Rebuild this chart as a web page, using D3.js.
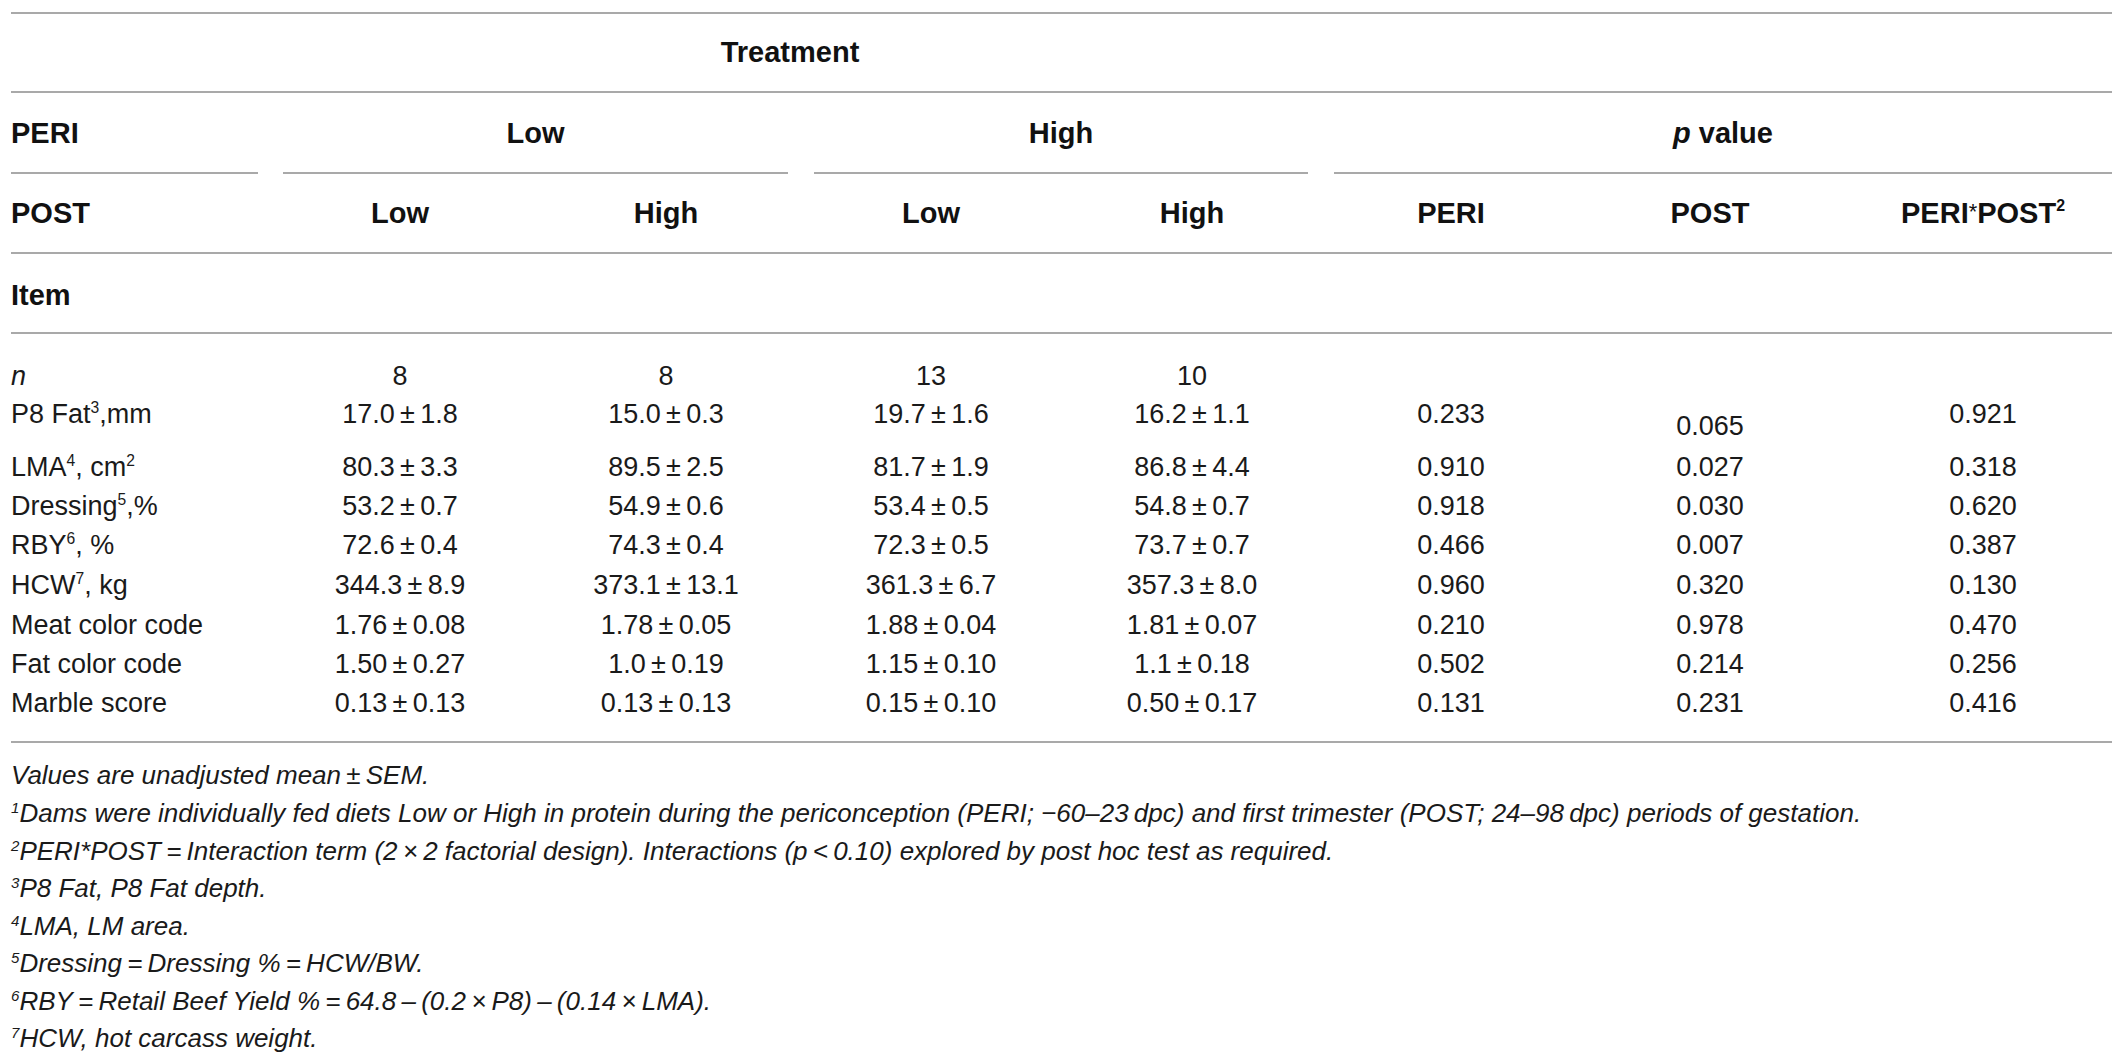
<!DOCTYPE html>
<html>
<head>
<meta charset="utf-8">
<script src="https://cdn.jsdelivr.net/npm/d3@7/dist/d3.min.js"></script>
<style>
  html, body { margin: 0; padding: 0; background: #fff; }
  svg { display: block; font-family: "Liberation Sans", Arial, Helvetica, sans-serif; }
</style>
</head>
<body>
<svg id="chart" width="2126" height="1063"></svg>
<script>
// ---------------- DATA ----------------
const periGroups = ["Low", "High"];
const postGroups = ["Low", "High", "Low", "High"];
const pColumns = ["PERI", "POST", "PERI*POST"];

const itemLabels = ["n", "P8 Fat", "LMA", "Dressing", "RBY", "HCW", "Meat color code", "Fat color code", "Marble score"];
const itemSup    = ["", "3", "4", "5", "6", "7", "", "", ""];
const itemUnits  = ["", ",mm", ", cm", ",%", ", %", ", kg", "", "", ""];
const unitSup    = ["", "", "2", "", "", "", "", "", ""];

const lowLow   = ["8", "17.0\u2009±\u20091.8", "80.3\u2009±\u20093.3", "53.2\u2009±\u20090.7", "72.6\u2009±\u20090.4", "344.3\u2009±\u20098.9", "1.76\u2009±\u20090.08", "1.50\u2009±\u20090.27", "0.13\u2009±\u20090.13"];
const lowHigh  = ["8", "15.0\u2009±\u20090.3", "89.5\u2009±\u20092.5", "54.9\u2009±\u20090.6", "74.3\u2009±\u20090.4", "373.1\u2009±\u200913.1", "1.78\u2009±\u20090.05", "1.0\u2009±\u20090.19", "0.13\u2009±\u20090.13"];
const highLow  = ["13", "19.7\u2009±\u20091.6", "81.7\u2009±\u20091.9", "53.4\u2009±\u20090.5", "72.3\u2009±\u20090.5", "361.3\u2009±\u20096.7", "1.88\u2009±\u20090.04", "1.15\u2009±\u20090.10", "0.15\u2009±\u20090.10"];
const highHigh = ["10", "16.2\u2009±\u20091.1", "86.8\u2009±\u20094.4", "54.8\u2009±\u20090.7", "73.7\u2009±\u20090.7", "357.3\u2009±\u20098.0", "1.81\u2009±\u20090.07", "1.1\u2009±\u20090.18", "0.50\u2009±\u20090.17"];
const pPeri     = ["", "0.233", "0.910", "0.918", "0.466", "0.960", "0.210", "0.502", "0.131"];
const pPost     = ["", "0.065", "0.027", "0.030", "0.007", "0.320", "0.978", "0.214", "0.231"];
const pInteract = ["", "0.921", "0.318", "0.620", "0.387", "0.130", "0.470", "0.256", "0.416"];

const footnotes = [
  {sup: "", text: "Values are unadjusted mean\u2009±\u2009SEM."},
  {sup: "1", text: "Dams were individually fed diets Low or High in protein during the periconception (PERI; \u221260\u201323\u2009dpc) and first trimester (POST; 24\u201398\u2009dpc) periods of gestation."},
  {sup: "2", text: "PERI*POST\u2009=\u2009Interaction term (2\u2009×\u20092 factorial design). Interactions (p\u2009<\u20090.10) explored by post hoc test as required."},
  {sup: "3", text: "P8 Fat, P8 Fat depth."},
  {sup: "4", text: "LMA, LM area."},
  {sup: "5", text: "Dressing\u2009=\u2009Dressing %\u2009=\u2009HCW/BW."},
  {sup: "6", text: "RBY\u2009=\u2009Retail Beef Yield %\u2009=\u200964.8\u2009\u2013\u2009(0.2\u2009×\u2009P8)\u2009\u2013\u2009(0.14\u2009×\u2009LMA)."},
  {sup: "7", text: "HCW, hot carcass weight."}
];

// ---------------- LAYOUT ----------------
const svg = d3.select("#chart");
const left = 11, right = 2112;
const textColor = "#1a1a1a";
const ruleColor = "#a9a9a9";

const valueColumns = [lowLow, lowHigh, highLow, highHigh, pPeri, pPost, pInteract];
const colKeys = d3.range(valueColumns.length);
// column centres via an ordinal scale
const colCenters = [400, 666, 931, 1192, 1451, 1710, 1983];
const x = d3.scaleOrdinal().domain(colKeys).range(colCenters);

// row positions: linear scale over row "units" (P8 row is taller)
const rowUnits = [0, 1, 2.36, 3.36, 4.38, 5.42, 6.46, 7.46, 8.46];
const y = d3.scaleLinear().domain([0, 8.46]).range([375, 702]);

const BODY = 27, HEAD = 29, FOOT = 26;

function rule(x1, x2, yy) {
  svg.append("line").attr("x1", x1).attr("x2", x2).attr("y1", yy).attr("y2", yy)
    .attr("stroke", ruleColor).attr("stroke-width", 2);
}

// horizontal rules
rule(left, right, 13);
rule(left, right, 92);
rule(left, 258, 173);
rule(283, 788, 173);
rule(814, 1308, 173);
rule(1334, right, 173);
rule(left, right, 253);
rule(left, right, 333);
rule(left, right, 742);

function headText(tx, ty, anchor) {
  return svg.append("text").attr("x", tx).attr("y", ty + HEAD * 0.36)
    .attr("text-anchor", anchor).attr("font-size", HEAD).attr("font-weight", "bold").attr("fill", "#111");
}

headText(790, 52, "middle").text("Treatment");
headText(left, 133, "start").text("PERI");
headText((283 + 788) / 2, 133, "middle").text(periGroups[0]);
headText((814 + 1308) / 2, 133, "middle").text(periGroups[1]);
const pv = headText((1334 + right) / 2, 133, "middle");
pv.append("tspan").attr("font-style", "italic").text("p");
pv.append("tspan").text(" value");

headText(left, 213, "start").text("POST");
postGroups.forEach((g, i) => headText(x(i), 213, "middle").text(g));
headText(x(4), 213, "middle").text(pColumns[0]);
headText(x(5), 213, "middle").text(pColumns[1]);
const pi = headText(x(6), 213, "middle");
pi.append("tspan").text("PERI");
pi.append("tspan").attr("font-weight", "normal").attr("font-size", HEAD * 0.75).attr("dy", -4).text("*");
pi.append("tspan").attr("dy", 4).text("POST");
pi.append("tspan").attr("font-size", HEAD * 0.55).attr("dy", -12).text("2");

headText(left, 295, "start").text("Item");

// item labels
itemLabels.forEach((lab, i) => {
  const t = svg.append("text").attr("x", left).attr("y", y(rowUnits[i]) + BODY * 0.36)
    .attr("font-size", BODY).attr("fill", textColor);
  if (i === 0) { t.append("tspan").attr("font-style", "italic").text(lab); return; }
  t.append("tspan").text(lab);
  if (itemSup[i]) t.append("tspan").attr("font-size", BODY * 0.58).attr("dy", -10).text(itemSup[i]);
  if (itemUnits[i]) t.append("tspan").attr("dy", itemSup[i] ? 10 : 0).text(itemUnits[i]);
  if (unitSup[i]) t.append("tspan").attr("font-size", BODY * 0.58).attr("dy", -10).text(unitSup[i]);
});

// values
valueColumns.forEach((col, c) => {
  svg.append("g").selectAll("text").data(col).join("text")
    .attr("x", x(c))
    .attr("y", (d, i) => y(rowUnits[i]) + BODY * 0.36 + (c === 5 && i === 1 ? 12 : 0))
    .attr("text-anchor", "middle").attr("font-size", BODY).attr("fill", textColor)
    .text(d => d);
});

// footnotes
const fy = d3.scaleLinear().domain([0, footnotes.length - 1]).range([775, 1038]);
footnotes.forEach((f, i) => {
  const t = svg.append("text").attr("x", left).attr("y", fy(i) + FOOT * 0.36)
    .attr("font-size", FOOT).attr("font-style", "italic").attr("fill", textColor);
  if (f.sup) t.append("tspan").attr("font-size", FOOT * 0.58).attr("dy", -9).text(f.sup);
  t.append("tspan").attr("dy", f.sup ? 9 : 0).text(f.text);
});
</script>
</body>
</html>
